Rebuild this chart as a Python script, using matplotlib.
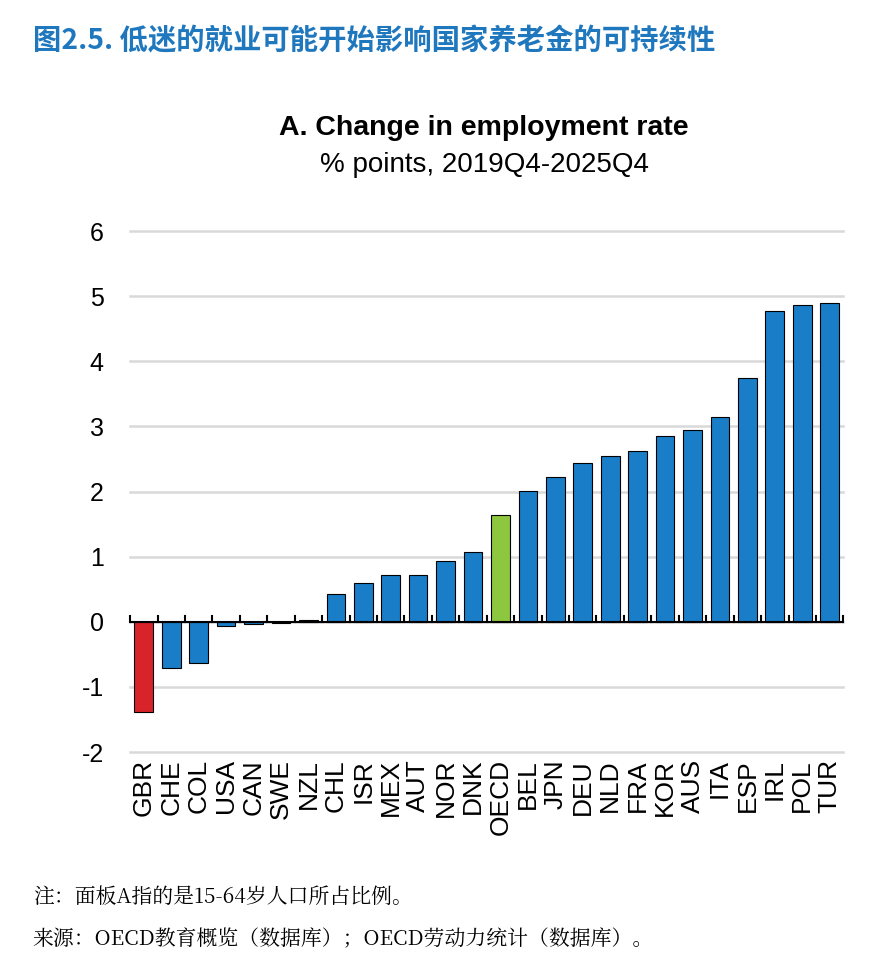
import matplotlib.pyplot as plt
import numpy as np

countries = ['GBR', 'CHE', 'COL', 'USA', 'CAN', 'SWE', 'NZL', 'CHL', 'ISR', 'MEX',
             'AUT', 'NOR', 'DNK', 'OECD', 'BEL', 'JPN', 'DEU', 'NLD', 'FRA', 'KOR',
             'AUS', 'ITA', 'ESP', 'IRL', 'POL', 'TUR']
change = [-1.38, -0.71, -0.63, -0.07, -0.03, -0.02, 0.03, 0.43, 0.60, 0.72,
          0.72, 0.94, 1.07, 1.64, 2.01, 2.22, 2.44, 2.55, 2.62, 2.85,
          2.94, 3.14, 3.74, 4.77, 4.86, 4.89]

blue = '#1A7DC8'
red = '#D8232A'
green = '#8DC63F'
colors = [red if c == 'GBR' else green if c == 'OECD' else blue for c in countries]

plt.rcParams['font.family'] = ['Liberation Sans', 'DejaVu Sans']

fig = plt.figure(figsize=(8.85, 9.72), dpi=100)
ax = fig.add_axes([0.147, 0.2263, 0.806, 0.536])

x = np.arange(len(countries))
ax.bar(x, change, width=0.68, color=colors, edgecolor='black', linewidth=0.8, zorder=3)

ax.set_xlim(-0.5, len(countries) - 0.5)
ax.set_ylim(-2, 6)
ax.set_yticks(range(-2, 7))
ax.set_yticklabels([str(v) for v in range(-2, 7)], fontsize=18)
ax.tick_params(axis='y', length=0, pad=19)
ax.grid(axis='y', color='#d9d9d9', linewidth=1.8, zorder=0)
for gl in ax.get_ygridlines():
    gl.set_clip_on(False)
ax.axhline(0, color='black', linewidth=1.5, zorder=4)
for s in ax.spines.values():
    s.set_visible(False)

# category labels below the axes, boundary ticks on the zero line
ax.set_xticks(x)
ax.set_xticklabels(countries, rotation=90, fontsize=19, va='top')
ax.tick_params(axis='x', length=0, pad=5)
for b in np.arange(-0.5, len(countries), 1.0):
    ax.plot([b, b], [0, 0.09], color='black', linewidth=1.5, zorder=4, clip_on=False)

fig.text(0.037, 0.958, '图2.5. 低迷的就业可能开始影响国家养老金的可持续性',
         fontsize=20.4, fontweight='bold', color='#1F78BE', family=['Noto Sans CJK SC'],
         va='center')
fig.text(0.547, 0.868, 'A. Change in employment rate', fontsize=20.5, fontweight='bold',
         ha='center', va='center')
fig.text(0.547, 0.830, '% points, 2019Q4-2025Q4', fontsize=20, ha='center', va='center')

fig.text(0.037, 0.077, '注：面板A指的是15-64岁人口所占比例。', fontsize=15,
         family=['Noto Serif CJK SC', 'Noto Sans CJK SC'], va='center')
fig.text(0.037, 0.033, '来源：OECD教育概览（数据库）；OECD劳动力统计（数据库）。', fontsize=15,
         family=['Noto Serif CJK SC', 'Noto Sans CJK SC'], va='center')

fig.savefig('out.png', dpi=100)
